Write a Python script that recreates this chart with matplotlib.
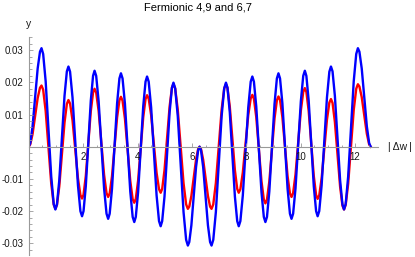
import matplotlib
matplotlib.use("Agg")
import matplotlib.pyplot as plt
from matplotlib.ticker import FixedLocator, FixedFormatter

# valores (|Δw| vs y)
x_dw = [
    0, 0.056, 0.141, 0.235, 0.329, 0.414,
    0.47, 0.531, 0.623, 0.725, 0.827, 0.919,
    0.98, 1.038, 1.124, 1.22, 1.316, 1.402,
    1.46, 1.52, 1.61, 1.71, 1.81, 1.90,
    1.96, 2.015, 2.098, 2.19, 2.282, 2.365,
    2.42, 2.48, 2.57, 2.67, 2.77, 2.86,
    2.92, 2.976, 3.061, 3.155, 3.249, 3.334,
    3.39, 3.449, 3.537, 3.635, 3.733, 3.821,
    3.88, 3.936, 4.021, 4.115, 4.209, 4.294,
    4.35, 4.41, 4.50, 4.60, 4.70, 4.79,
    4.85, 4.906, 4.991, 5.085, 5.179, 5.264,
    5.32, 5.384, 5.479, 5.585, 5.691, 5.786,
    5.85, 5.902, 5.979, 6.065, 6.151, 6.228,
    6.28, 6.333, 6.412, 6.50, 6.588, 6.667,
    6.72, 6.784, 6.879, 6.985, 7.091, 7.186,
    7.25, 7.306, 7.391, 7.485, 7.579, 7.664,
    7.72, 7.78, 7.87, 7.97, 8.07, 8.16,
    8.22, 8.278, 8.364, 8.46, 8.556, 8.642,
    8.70, 8.758, 8.844, 8.94, 9.036, 9.122,
    9.18, 9.238, 9.324, 9.42, 9.516, 9.602,
    9.66, 9.719, 9.807, 9.905, 10.003, 10.091,
    10.15, 10.206, 10.291, 10.385, 10.479, 10.564,
    10.62, 10.679, 10.767, 10.865, 10.963, 11.051,
    11.11, 11.168, 11.254, 11.35, 11.446, 11.532,
    11.59, 11.651, 11.743, 11.845, 11.947, 12.039,
    12.10, 12.156, 12.241, 12.335, 12.429, 12.514,
    12.57,
]

# curva roja (4,9)
y_49 = [
    0, 0.0007, 0.0039, 0.0095, 0.0151, 0.0183,
    0.0190, 0.0177, 0.0111, -0.0002, -0.0114, -0.0180,
    -0.0193, -0.0181, -0.0123, -0.0024, 0.0075, 0.0133,
    0.0145, 0.0134, 0.0082, -0.0008, -0.0098, -0.0150,
    -0.0161, -0.0149, -0.0091, 0.0010, 0.0110, 0.0168,
    0.0180, 0.0168, 0.0111, 0.0012, -0.0087, -0.0144,
    -0.0156, -0.0145, -0.0092, -0.0001, 0.0091, 0.0144,
    0.0155, 0.0143, 0.0087, -0.0010, -0.0106, -0.0163,
    -0.0174, -0.0162, -0.0105, -0.0007, 0.0091, 0.0148,
    0.0160, 0.0149, 0.0098, 0.0009, -0.0081, -0.0132,
    -0.0143, -0.0131, -0.0073, 0.0026, 0.0125, 0.0183,
    0.0195, 0.0181, 0.0115, 0.0001, -0.0113, -0.0179,
    -0.0193, -0.0186, -0.0153, -0.0097, -0.0040, -0.0007,
    0, -0.0007, -0.0040, -0.0097, -0.0153, -0.0186,
    -0.0193, -0.0179, -0.0113, 0.0001, 0.0115, 0.0181,
    0.0195, 0.0183, 0.0125, 0.0026, -0.0073, -0.0131,
    -0.0143, -0.0132, -0.0080, 0.0009, 0.0098, 0.0150,
    0.0161, 0.0149, 0.0092, -0.0008, -0.0107, -0.0164,
    -0.0176, -0.0164, -0.0108, -0.0010, 0.0088, 0.0144,
    0.0156, 0.0145, 0.0092, 0.0000, -0.0092, -0.0145,
    -0.0156, -0.0144, -0.0086, 0.0013, 0.0112, 0.0170,
    0.0182, 0.0170, 0.0111, 0.0010, -0.0091, -0.0150,
    -0.0162, -0.0151, -0.0098, -0.0007, 0.0084, 0.0137,
    0.0148, 0.0136, 0.0077, -0.0024, -0.0124, -0.0183,
    -0.0195, -0.0181, -0.0115, -0.0001, 0.0114, 0.0180,
    0.0194, 0.0187, 0.0154, 0.0097, 0.0040, 0.0007,
    0,
]

# curva azul (6,7)
y_67 = [
    0, 0.0011, 0.0063, 0.0153, 0.0243, 0.0295,
    0.0306, 0.0288, 0.0203, 0.0056, -0.0092, -0.0178,
    -0.0195, -0.0179, -0.0104, 0.0027, 0.0158, 0.0234,
    0.0249, 0.0233, 0.0153, 0.0017, -0.0120, -0.0200,
    -0.0216, -0.0200, -0.0123, 0.0010, 0.0143, 0.0220,
    0.0236, 0.0220, 0.0141, 0.0006, -0.0129, -0.0208,
    -0.0224, -0.0208, -0.0131, 0.0002, 0.0135, 0.0212,
    0.0228, 0.0212, 0.0133, -0.0003, -0.0139, -0.0218,
    -0.0234, -0.0218, -0.0141, -0.0008, 0.0125, 0.0202,
    0.0218, 0.0202, 0.0122, -0.0015, -0.0151, -0.0231,
    -0.0247, -0.0231, -0.0155, -0.0024, 0.0107, 0.0183,
    0.0199, 0.0181, 0.0095, -0.0054, -0.0203, -0.0289,
    -0.0307, -0.0296, -0.0244, -0.0154, -0.0063, -0.0011,
    0, -0.0011, -0.0063, -0.0154, -0.0244, -0.0296,
    -0.0307, -0.0289, -0.0203, -0.0054, 0.0095, 0.0181,
    0.0199, 0.0183, 0.0107, -0.0024, -0.0155, -0.0231,
    -0.0247, -0.0231, -0.0151, -0.0015, 0.0122, 0.0202,
    0.0218, 0.0202, 0.0125, -0.0008, -0.0141, -0.0218,
    -0.0234, -0.0218, -0.0139, -0.0003, 0.0133, 0.0212,
    0.0228, 0.0212, 0.0135, 0.0002, -0.0131, -0.0208,
    -0.0224, -0.0208, -0.0129, 0.0006, 0.0141, 0.0220,
    0.0236, 0.0220, 0.0143, 0.0010, -0.0123, -0.0200,
    -0.0216, -0.0200, -0.0120, 0.0017, 0.0153, 0.0233,
    0.0249, 0.0234, 0.0158, 0.0027, -0.0104, -0.0179,
    -0.0195, -0.0178, -0.0092, 0.0056, 0.0203, 0.0288,
    0.0306, 0.0295, 0.0243, 0.0153, 0.0063, 0.0011,
    0,
]

x_ticks = [2, 4, 6, 8, 10, 12]
x_tick_labels = ["2", "4", "6", "8", "10", "12"]
x_minor = [0.5, 1, 1.5, 2.5, 3, 3.5, 4.5, 5, 5.5, 6.5, 7, 7.5,
           8.5, 9, 9.5, 10.5, 11, 11.5, 12.5]
y_ticks = [-0.03, -0.02, -0.01, 0.01, 0.02, 0.03]
y_tick_labels = ["-0.03", "-0.02", "-0.01", "0.01", "0.02", "0.03"]
y_minor = [-0.034, -0.032, -0.028, -0.026, -0.024, -0.022, -0.018, -0.016,
           -0.014, -0.012, -0.008, -0.006, -0.004, -0.002, 0.002, 0.004,
           0.006, 0.008, 0.012, 0.014, 0.016, 0.018, 0.022, 0.024, 0.026,
           0.028, 0.032, 0.034]

plt.rcParams['font.family'] = ['Liberation Sans', 'DejaVu Sans']

fig = plt.figure(figsize=(4.15, 2.57), dpi=100)
ax = fig.add_axes([0.0692, 0.0082, 0.8417, 0.8494])

color_49 = '#FF0000'
color_67 = '#0000FF'
gris = '#999999'

ax.plot(x_dw, y_49, color=color_49, linewidth=1.7, solid_joinstyle='round')
ax.plot(x_dw, y_67, color=color_67, linewidth=1.7, solid_joinstyle='round')

ax.set_xlim(0, 12.84)
ax.set_ylim(-0.0336, 0.0342)

# ejes estilo Mathematica, cruzando en el origen
ax.set_axisbelow(False)
ax.spines['top'].set_visible(False)
ax.spines['right'].set_visible(False)
ax.spines['left'].set_position(('data', 0))
ax.spines['bottom'].set_position(('data', 0))
for s in ['left', 'bottom']:
    ax.spines[s].set_color(gris)
    ax.spines[s].set_linewidth(0.8)

ax.xaxis.set_major_locator(FixedLocator(x_ticks))
ax.xaxis.set_major_formatter(FixedFormatter(x_tick_labels))
ax.xaxis.set_minor_locator(FixedLocator(x_minor))
ax.yaxis.set_major_locator(FixedLocator(y_ticks))
ax.yaxis.set_major_formatter(FixedFormatter(y_tick_labels))
ax.yaxis.set_minor_locator(FixedLocator(y_minor))

ax.tick_params(which='both', direction='in', color=gris, width=0.6,
               labelsize=7, labelcolor='#1a1a1a', pad=3.5)
ax.tick_params(which='major', length=3)
ax.tick_params(which='minor', length=1.8)

ax.annotate('|\u2009Δw\u2009|', xy=(1, 0), xycoords=('axes fraction', 'data'),
            xytext=(7.5, 0), textcoords='offset points',
            ha='left', va='center', fontsize=7.5, color='#1a1a1a')
ax.annotate('y', xy=(0, 1), xycoords='axes fraction',
            xytext=(0, 9), textcoords='offset points',
            ha='center', va='center', fontsize=7.5, color='#1a1a1a')

fig.text(0.478, 1 - 8 / 257, 'Fermionic 4,9 and 6,7', ha='center',
         va='center', fontsize=8)

fig.savefig('out.png', dpi=100)
